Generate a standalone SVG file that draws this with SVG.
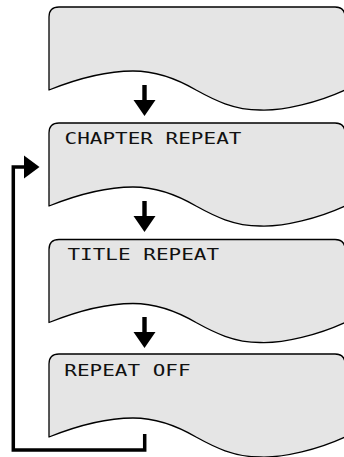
<svg xmlns="http://www.w3.org/2000/svg" width="344" height="457" viewBox="0 0 344 457">
<style>
.doc{fill:#e5e5e5;stroke:#000;stroke-width:1.3;stroke-linejoin:round}
.lbl{font-family:"DejaVu Sans Mono","Liberation Mono",monospace;font-size:15px;fill:#111}
.ar{fill:#000}
.line{fill:none;stroke:#000;stroke-width:3.5}
</style>
<defs>
<path id="docshape" d="M0,83 V10 Q0,0 10,0 H286 Q296,0 296,10 V83 C270,95 235,104 211,103 C185,103 165,93 147.5,83.3 C130,73 108,64 84,64 C55,64 25,73 0,83 Z"/>
<path id="down" d="M-2.2,0 H2.2 V15 H11 L0,31 L-11,15 H-2.2 Z"/>
</defs>
<g id="node1"><use href="#docshape" class="doc" transform="translate(49,7)"/></g>
<g id="node2"><use href="#docshape" class="doc" transform="translate(49,123)"/><text class="lbl" transform="scale(1.4,1)" x="46.1" y="144">CHAPTER REPEAT</text></g>
<g id="node3"><use href="#docshape" class="doc" transform="translate(49,239.5)"/><text class="lbl" transform="scale(1.4,1)" x="48.2" y="260">TITLE REPEAT</text></g>
<g id="node4"><use href="#docshape" class="doc" transform="translate(49,354)"/><text class="lbl" transform="scale(1.4,1)" x="45.9" y="376">REPEAT OFF</text></g>
<g id="connectors">
<use href="#down" class="ar" transform="translate(144.5,85)"/>
<use href="#down" class="ar" transform="translate(144.5,201)"/>
<use href="#down" class="ar" transform="translate(144.5,317)"/>
<path class="line" d="M144.7,434 V450 H13.3 V167 H25"/>
<path class="ar" d="M24,155.5 L39.5,167 L24,178.5 Z"/>
</g>
</svg>
